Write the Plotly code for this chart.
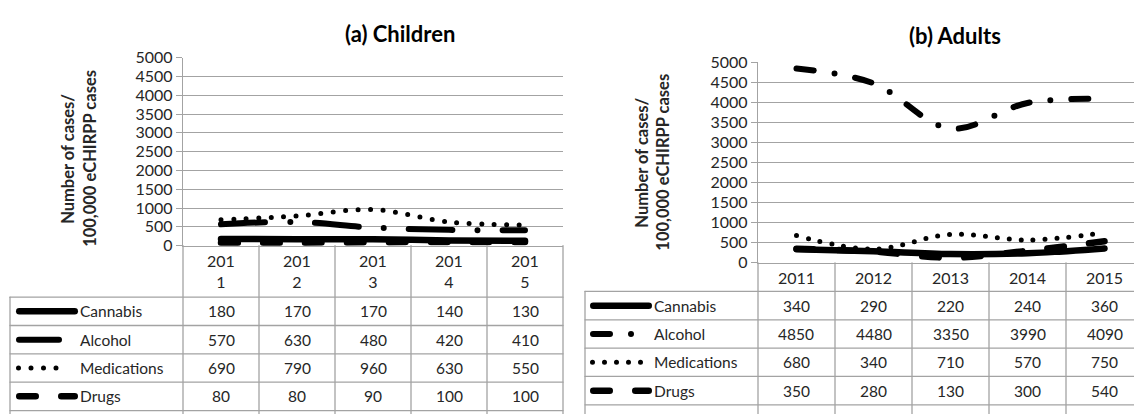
import plotly.graph_objects as go

# ---- data -------------------------------------------------------------
years = ["2011", "2012", "2013", "2014", "2015"]
substances = ["Cannabis", "Alcohol", "Medications", "Drugs"]

children_cannabis = [180, 170, 170, 140, 130]
children_alcohol = [570, 630, 480, 420, 410]
children_medications = [690, 790, 960, 630, 550]
children_drugs = [80, 80, 90, 100, 100]

adults_cannabis = [340, 290, 220, 240, 360]
adults_alcohol = [4850, 4480, 3350, 3990, 4090]
adults_medications = [680, 340, 710, 570, 750]
adults_drugs = [350, 280, 130, 300, 540]

y_ticks = list(range(0, 5001, 500))

# ---- page geometry (pixels) --------------------------------------------
W, H = 1134, 414
GRID = "#A3A3A3"
TEXT = "#262626"
FONT = "Lato"


def px(x):
    return x / W


def py(y):
    return 1 - y / H


panels = [
    dict(
        title="(a) Children", title_xy=(400, 25),
        values=[children_cannabis, children_alcohol, children_medications, children_drugs],
        styles=[  # (width, dash, key span)
            (6.5, "solid", (16, 78)),
            (6, "44px,25px,0px,25px", (16, 62)),
            (5, "0px,12.5px", (16, 66)),
            (6.5, "16.5px,25.5px", (16, 78)),
        ],
        table_left=10, plot_left=183, col_w=76, y_top=50, y_zero=247,
        header_bottom=301, row_h=29.7, wrap_years=True, text_x=78,
        ytitle_x=(68, 90), ytitle_y=156,
    ),
    dict(
        title="(b) Adults", title_xy=(955, 27),
        values=[adults_cannabis, adults_alcohol, adults_medications, adults_drugs],
        styles=[
            (6.5, "solid", (590, 652)),
            (6, "17px,21px,0px,21px", (590, 636)),
            (5, "0px,12px", (590, 644)),
            (6.5, "16.5px,25.5px", (590, 652)),
        ],
        table_left=585, plot_left=758, col_w=77, y_top=55, y_zero=265,
        header_bottom=295, row_h=29.7, wrap_years=False, text_x=652,
        ytitle_x=(642, 663), ytitle_y=160,
    ),
]

fig = go.Figure()
shapes = []
annotations = []

for k, p in enumerate(panels):
    xname = "x" if k == 0 else f"x{k + 1}"
    yname = "y" if k == 0 else f"y{k + 1}"
    xkey = "xaxis" if k == 0 else f"xaxis{k + 1}"
    ykey = "yaxis" if k == 0 else f"yaxis{k + 1}"

    plot_right = min(p["plot_left"] + p["col_w"] * len(years), W)
    span = (plot_right - p["plot_left"]) / p["col_w"]

    # series lines
    for name, vals, (w, dash, _) in zip(substances, p["values"], p["styles"]):
        fig.add_trace(go.Scatter(
            x=list(range(len(years))), y=vals, name=name, mode="lines",
            line=dict(color="black", width=w, dash=dash, shape="spline", smoothing=1),
            xaxis=xname, yaxis=yname, showlegend=False, hoverinfo="skip",
        ))

    fig.layout[xkey] = dict(
        domain=[px(p["plot_left"]), px(plot_right)], range=[-0.5, -0.5 + span],
        anchor=yname, showgrid=False, zeroline=False, showticklabels=False,
        showline=True, linecolor=GRID, linewidth=1.3, ticks="",
    )
    fig.layout[ykey] = dict(
        domain=[py(p["y_zero"]), py(p["y_top"])], range=[0, 5000],
        anchor=xname, tickvals=y_ticks, showgrid=True, gridcolor=GRID, gridwidth=1.3,
        zeroline=False, showline=True, linecolor=GRID, linewidth=1.3,
        ticks="outside", ticklen=6, tickcolor=GRID, tickwidth=1.3,
        tickfont=dict(family=FONT, size=16, color=TEXT),
    )

    # chart title
    annotations.append(dict(
        text=f"<b>{p['title']}</b>", x=px(p["title_xy"][0]), y=py(p["title_xy"][1]),
        xref="paper", yref="paper", xanchor="center", yanchor="middle",
        showarrow=False, font=dict(family=FONT, size=22, color="black"),
    ))
    # y-axis title, two lines
    for line_text, lx in zip(["Number of cases/", "100,000 eCHIRPP cases"], p["ytitle_x"]):
        annotations.append(dict(
            text=f"<b>{line_text}</b>", x=px(lx), y=py(p["ytitle_y"]),
            xref="paper", yref="paper", xanchor="center", yanchor="middle",
            textangle=-90, showarrow=False, font=dict(family=FONT, size=16.5, color=TEXT),
        ))

    # data table grid
    n_rows = len(substances)
    col_edges = [p["plot_left"] + p["col_w"] * i for i in range(len(years) + 1)]
    row_edges = [p["header_bottom"] + p["row_h"] * r for r in range(n_rows + 1)]
    line_style = dict(color=GRID, width=1.3)
    for y_edge in row_edges:
        shapes.append(dict(type="line", xref="paper", yref="paper",
                           x0=px(p["table_left"]), x1=px(min(col_edges[-1], W)),
                           y0=py(y_edge), y1=py(y_edge), line=line_style))
    shapes.append(dict(type="line", xref="paper", yref="paper",
                       x0=px(p["table_left"]), x1=px(p["table_left"]),
                       y0=py(p["header_bottom"]), y1=py(H + 10), line=line_style))
    for x_edge in col_edges:
        if x_edge > W:
            continue
        shapes.append(dict(type="line", xref="paper", yref="paper",
                           x0=px(x_edge), x1=px(x_edge),
                           y0=py(p["y_zero"]), y1=py(H + 10), line=line_style))

    # header row: years
    header_mid = (p["y_zero"] + p["header_bottom"]) / 2
    for i, yr in enumerate(years):
        label = f"{yr[:3]}<br>{yr[3:]}" if p["wrap_years"] else yr
        annotations.append(dict(
            text=label, x=px(p["plot_left"] + p["col_w"] * (i + 0.5)), y=py(header_mid),
            xref="paper", yref="paper", xanchor="center", yanchor="middle",
            showarrow=False, font=dict(family=FONT, size=16, color=TEXT),
        ))

    # body rows: legend key, series name, values
    for r, (name, vals, (w, dash, (k0, k1))) in enumerate(zip(substances, p["values"], p["styles"])):
        yc = p["header_bottom"] + p["row_h"] * (r + 0.5)
        shapes.append(dict(type="line", xref="paper", yref="paper",
                           x0=px(k0 + w / 2), x1=px(k1 - w / 2), y0=py(yc), y1=py(yc),
                           line=dict(color="black", width=w, dash=dash)))
        annotations.append(dict(
            text=name, x=px(p["text_x"]), y=py(yc), xref="paper", yref="paper",
            xanchor="left", yanchor="middle", showarrow=False,
            font=dict(family=FONT, size=15.5, color=TEXT),
        ))
        for i, v in enumerate(vals):
            annotations.append(dict(
                text=str(v), x=px(p["plot_left"] + p["col_w"] * (i + 0.5)), y=py(yc),
                xref="paper", yref="paper", xanchor="center", yanchor="middle",
                showarrow=False, font=dict(family=FONT, size=15.5, color=TEXT),
            ))

fig.update_layout(
    width=W, height=H, margin=dict(l=0, r=0, t=0, b=0),
    paper_bgcolor="white", plot_bgcolor="rgba(0,0,0,0)",
    shapes=shapes, annotations=annotations, showlegend=False,
    font=dict(family=FONT, color=TEXT),
)

round_caps = (
    "var s=document.createElement('style');"
    "s.textContent='.js-line,.shapelayer path{stroke-linecap:round;stroke-linejoin:round;}';"
    "document.head.appendChild(s);"
)
fig.write_html("out.html", post_script=round_caps)
